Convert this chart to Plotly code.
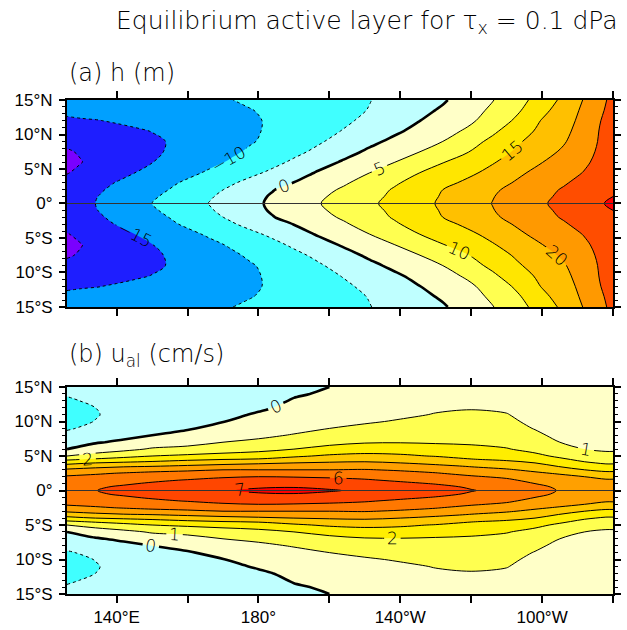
import numpy as np
import plotly.graph_objects as go

# ---------------- panel (a): h (m) ----------------
lon_h = [126, 130, 135, 140, 145, 150, 155, 160, 166, 172, 178, 184, 190, 197,
         204, 211, 218, 225, 232, 239, 246, 253, 260, 266, 272, 276, 280]
lat_h_north = [0, 1, 2, 3, 4.5, 6, 7.5, 9, 10.5, 12, 13.5, 15]
h_north = [
    [-17.4, -16.2, -14.7, -13.1, -11.6, -10.0, -8.4, -6.8, -4.9, -3.0, -1.1, 0.8, 2.6, 4.8, 6.9, 9.1, 11.3, 13.5, 15.7, 17.9, 20.1, 22.3, 24.5, 26.4, 28.3, 29.5, 30.8],
    [-17.7, -16.4, -14.9, -13.4, -12.0, -10.6, -9.0, -7.4, -5.5, -3.5, -1.4, 0.5, 2.3, 4.3, 6.4, 8.6, 10.8, 13.1, 15.4, 17.6, 19.8, 22.0, 24.1, 25.9, 27.6, 28.8, 30.0],
    [-18.3, -17.0, -15.5, -14.0, -12.7, -11.3, -9.9, -8.3, -6.3, -4.4, -2.3, -0.2, 1.5, 3.5, 5.6, 8.0, 10.3, 12.7, 15.0, 17.1, 19.3, 21.4, 23.6, 25.4, 27.4, 28.6, 29.3],
    [-19.0, -17.8, -16.3, -14.8, -13.4, -12.1, -10.7, -9.3, -7.4, -5.6, -3.7, -1.8, 0.1, 2.2, 4.4, 6.8, 9.3, 11.6, 13.7, 15.9, 18.2, 20.5, 22.6, 24.5, 26.5, 27.8, 28.7],
    [-20.2, -19.3, -17.9, -16.5, -15.1, -13.7, -12.4, -11.1, -9.5, -7.7, -6.0, -4.2, -2.0, 0.4, 2.6, 4.8, 7.3, 9.8, 11.9, 13.9, 16.3, 19.1, 21.4, 23.3, 25.2, 26.6, 28.0],
    [-21.0, -20.1, -18.8, -17.6, -16.3, -15.1, -13.8, -12.6, -11.1, -9.6, -7.9, -6.2, -4.3, -1.8, 0.5, 2.7, 4.8, 7.3, 9.8, 12.2, 14.6, 17.2, 19.9, 22.1, 24.4, 25.9, 27.5],
    [-20.3, -19.7, -18.7, -17.7, -16.7, -15.7, -14.6, -13.5, -12.1, -10.8, -9.3, -7.7, -6.1, -4.0, -1.6, 0.7, 2.8, 4.8, 7.3, 9.8, 12.8, 15.7, 18.3, 20.7, 23.7, 25.5, 27.0],
    [-19.3, -18.7, -17.9, -17.1, -16.4, -15.6, -14.8, -13.8, -12.6, -11.5, -10.3, -8.9, -7.3, -5.5, -3.4, -1.2, 0.9, 3.0, 5.0, 8.0, 11.1, 14.4, 17.2, 19.5, 22.9, 25.2, 26.7],
    [-17.8, -17.3, -16.7, -16.1, -15.5, -14.9, -14.1, -13.3, -12.4, -11.5, -10.5, -9.4, -8.0, -6.4, -4.8, -2.8, -0.9, 1.2, 3.3, 5.7, 9.1, 12.7, 16.2, 18.7, 22.2, 25.0, 26.4],
    [-15.5, -15.3, -15.1, -14.6, -14.1, -13.5, -13.0, -12.4, -11.7, -11.1, -10.4, -9.6, -8.4, -7.0, -5.7, -4.1, -2.2, -0.2, 1.9, 4.0, 7.0, 10.9, 15.3, 18.1, 21.5, 24.8, 26.2],
    [-14.3, -14.0, -13.6, -13.2, -12.8, -12.5, -12.1, -11.7, -11.2, -10.8, -10.1, -9.3, -8.3, -7.2, -6.1, -4.9, -3.1, -1.3, 0.6, 3.1, 5.8, 9.3, 13.7, 17.3, 21.0, 24.4, 26.0],
    [-13.5, -13.2, -12.8, -12.5, -12.1, -11.7, -11.3, -11.0, -10.5, -10.1, -9.4, -8.6, -7.8, -7.0, -6.1, -5.2, -3.7, -2.1, -0.5, 2.0, 4.8, 8.2, 12.2, 16.1, 20.4, 24.0, 25.8],
]
h_colors = ["#7a00ff", "#1e1eff", "#00a0ff", "#40ffff", "#bfffff", "#ffffc8",
            "#ffff50", "#ffe600", "#ffc000", "#ff9900", "#ff4d00", "#ff0000"]

# ---------------- panel (b): u_al (cm/s) ----------------
lon_u = [126, 134, 142, 150, 160, 170, 180, 190, 200, 210, 220, 230, 240, 250,
         258, 265, 272, 278, 280]
lat_u_north = [0, 0.5, 1, 1.5, 2, 2.5, 3, 3.5, 4, 4.5, 5, 6, 7, 8, 9, 10, 11, 12, 13, 14, 15]
u_north_by_lon = [
    [5.75, 5.7, 5.55, 5.35, 5.1, 4.7, 4.15, 3.45, 2.7, 1.85, 1.0, 0.0, -0.4, -0.8, -1.08, -1.25, -1.3, -1.22, -1.08, -0.95, -0.85],
    [5.98, 5.9, 5.7, 5.45, 5.2, 4.9, 4.4, 3.7, 3.0, 2.15, 1.35, 0.5, -0.1, -0.5, -0.8, -0.98, -1.05, -1.0, -0.9, -0.8, -0.7],
    [6.25, 6.12, 5.9, 5.65, 5.35, 5.05, 4.6, 3.9, 3.15, 2.4, 1.7, 0.75, 0.2, -0.3, -0.55, -0.7, -0.75, -0.75, -0.7, -0.65, -0.6],
    [6.45, 6.3, 6.1, 5.85, 5.5, 5.2, 4.7, 4.0, 3.25, 2.65, 2.0, 1.1, 0.5, 0.0, -0.3, -0.5, -0.6, -0.62, -0.6, -0.58, -0.55],
    [6.7, 6.55, 6.3, 6.05, 5.7, 5.3, 4.85, 4.2, 3.45, 2.85, 2.2, 1.2, 0.75, 0.35, -0.1, -0.3, -0.45, -0.5, -0.5, -0.5, -0.5],
    [6.95, 6.8, 6.55, 6.25, 5.9, 5.45, 5.0, 4.35, 3.7, 3.0, 2.35, 1.5, 1.0, 0.7, 0.35, -0.03, -0.25, -0.38, -0.42, -0.45, -0.45],
    [7.1, 6.95, 6.7, 6.4, 6.0, 5.5, 5.0, 4.45, 3.85, 3.1, 2.5, 1.7, 1.15, 0.85, 0.6, 0.35, 0.1, -0.15, -0.28, -0.35, -0.4],
    [7.15, 6.98, 6.75, 6.4, 5.95, 5.5, 5.0, 4.5, 4.0, 3.4, 2.85, 2.0, 1.45, 1.05, 0.8, 0.6, 0.4, 0.22, 0.06, -0.08, -0.18],
    [7.05, 6.9, 6.65, 6.3, 5.85, 5.4, 5.0, 4.55, 4.1, 3.6, 3.15, 2.3, 1.75, 1.35, 1.0, 0.75, 0.55, 0.38, 0.22, 0.1, 0.0],
    [6.9, 6.75, 6.45, 6.1, 5.75, 5.4, 5.05, 4.6, 4.15, 3.7, 3.25, 2.55, 1.92, 1.55, 1.2, 0.9, 0.7, 0.55, 0.42, 0.32, 0.25],
    [6.7, 6.5, 6.2, 5.85, 5.55, 5.25, 4.9, 4.5, 4.0, 3.55, 3.15, 2.55, 1.95, 1.6, 1.35, 1.08, 0.85, 0.7, 0.58, 0.5, 0.45],
    [6.45, 6.25, 5.95, 5.65, 5.35, 5.05, 4.7, 4.25, 3.75, 3.4, 2.95, 2.4, 1.9, 1.6, 1.4, 1.22, 1.04, 0.88, 0.76, 0.67, 0.6],
    [6.05, 5.9, 5.7, 5.4, 5.1, 4.75, 4.35, 3.95, 3.5, 3.05, 2.7, 2.25, 1.85, 1.6, 1.42, 1.27, 1.12, 0.95, 0.82, 0.72, 0.65],
    [5.7, 5.6, 5.4, 5.15, 4.85, 4.5, 4.1, 3.7, 3.3, 2.85, 2.5, 2.05, 1.75, 1.52, 1.35, 1.2, 1.04, 0.85, 0.7, 0.6, 0.55],
    [5.3, 5.2, 5.0, 4.75, 4.45, 4.15, 3.8, 3.4, 3.0, 2.6, 2.2, 1.75, 1.45, 1.18, 0.96, 0.78, 0.64, 0.55, 0.48, 0.43, 0.4],
    [4.95, 4.88, 4.72, 4.5, 4.25, 3.9, 3.5, 2.95, 2.5, 2.15, 1.85, 1.4, 1.0, 0.78, 0.62, 0.5, 0.42, 0.37, 0.33, 0.3, 0.28],
    [4.75, 4.7, 4.55, 4.3, 4.0, 3.55, 3.0, 2.6, 2.1, 1.8, 1.5, 1.0, 0.7, 0.55, 0.45, 0.38, 0.33, 0.3, 0.28, 0.26, 0.25],
    [4.6, 4.52, 4.35, 4.12, 3.7, 3.25, 2.75, 2.25, 1.9, 1.6, 1.3, 0.85, 0.6, 0.47, 0.4, 0.34, 0.3, 0.28, 0.26, 0.25, 0.24],
    [4.6, 4.52, 4.35, 4.12, 3.7, 3.25, 2.75, 2.25, 1.9, 1.6, 1.3, 0.85, 0.6, 0.47, 0.4, 0.34, 0.3, 0.28, 0.26, 0.25, 0.24],
]
u_colors = ["#40ffff", "#bfffff", "#ffffc8", "#ffff50", "#ffee00", "#ffc800",
            "#ffa000", "#ff7800", "#ff4600", "#ff0000"]

lon_ticks = [140, 160, 180, 200, 220, 240, 260, 280]
lon_ticktext = ["140°E", "", "180°", "", "140°W", "", "100°W", ""]
lat_ticks = [-15, -10, -5, 0, 5, 10, 15]
lat_ticktext = ["15°S", "10°S", "5°S", "0°", "5°N", "10°N", "15°N"]


def mirror_lat(lat_north, rows_north):
    lat = [-v for v in lat_north[:0:-1]] + list(lat_north)
    rows = [list(r) for r in rows_north[:0:-1]] + [list(r) for r in rows_north]
    return lat, rows


lat_h, h_rows = mirror_lat(lat_h_north, h_north)
u_rows_north = np.array(u_north_by_lon).T.tolist()
lat_u, u_rows = mirror_lat(lat_u_north, u_rows_north)

SMOOTH = 1.0
LABEL_FONT = dict(family="DejaVu Sans", size=17, color="black", weight=300)


def fill_trace(x, y, z, start, end, size, colors, xa, ya):
    n = len(colors) - 1
    cs = [[k / n, c] for k, c in enumerate(colors)]
    return go.Contour(x=x, y=y, z=z, xaxis=xa, yaxis=ya, autocontour=False,
                      contours=dict(start=start, end=end, size=size,
                                    coloring="fill", showlines=False),
                      colorscale=cs, showscale=False, hoverinfo="skip",
                      line=dict(width=0, smoothing=SMOOTH))


def line_trace(x, y, z, start, end, size, width, dash, labels, xa, ya):
    return go.Contour(x=x, y=y, z=z, xaxis=xa, yaxis=ya, autocontour=False,
                      contours=dict(start=start, end=end, size=size,
                                    coloring="none", showlabels=labels,
                                    labelfont=LABEL_FONT),
                      showscale=False, hoverinfo="skip",
                      line=dict(color="black", width=width, dash=dash,
                                smoothing=SMOOTH))


fig = go.Figure()
# panel a
fig.add_trace(fill_trace(lon_h, lat_h, h_rows, -20, 30, 5, h_colors, "x", "y"))
fig.add_trace(line_trace(lon_h, lat_h, h_rows, -20, -5, 15, 1, "dot", False, "x", "y"))
fig.add_trace(line_trace(lon_h, lat_h, h_rows, -15, -10, 5, 1, "dot", True, "x", "y"))
fig.add_trace(line_trace(lon_h, lat_h, h_rows, 0, 0, 5, 2.6, "solid", True, "x", "y"))
fig.add_trace(line_trace(lon_h, lat_h, h_rows, 5, 20, 5, 1, "solid", True, "x", "y"))
fig.add_trace(line_trace(lon_h, lat_h, h_rows, 25, 30, 5, 1, "solid", False, "x", "y"))
# panel b
fig.add_trace(fill_trace(lon_u, lat_u, u_rows, -1, 7, 1, u_colors, "x2", "y2"))
fig.add_trace(line_trace(lon_u, lat_u, u_rows, -1, -1, 1, 1, "dot", False, "x2", "y2"))
fig.add_trace(line_trace(lon_u, lat_u, u_rows, 0, 0, 1, 2.6, "solid", True, "x2", "y2"))
fig.add_trace(line_trace(lon_u, lat_u, u_rows, 1, 2, 1, 1, "solid", True, "x2", "y2"))
fig.add_trace(line_trace(lon_u, lat_u, u_rows, 3, 5, 1, 1, "solid", False, "x2", "y2"))
fig.add_trace(line_trace(lon_u, lat_u, u_rows, 6, 7, 1, 1, "solid", True, "x2", "y2"))

TICKFONT = dict(family="Liberation Sans, Arial", size=17, color="black")
xcommon = dict(range=[126, 280], tickvals=lon_ticks, ticktext=lon_ticktext,
               ticks="outside", ticklen=7, tickwidth=1.5, tickcolor="black",
               showline=True, linewidth=2, linecolor="black", mirror="ticks",
               showgrid=False, zeroline=False, tickfont=TICKFONT,
               layer="above traces", automargin=False)
ycommon = dict(range=[-15, 15], tickvals=lat_ticks, ticktext=lat_ticktext,
               ticks="outside", ticklen=6, tickwidth=1.5, tickcolor="black",
               minor=dict(dtick=1, tick0=0, ticks="outside", ticklen=3,
                          tickwidth=1, tickcolor="black"),
               showline=True, linewidth=2, linecolor="black", mirror="ticks",
               showgrid=False, zeroline=False, tickfont=TICKFONT,
               layer="above traces", automargin=False)

fig.update_layout(
    width=627, height=630,
    margin=dict(l=67, r=14, t=100, b=36, autoexpand=False),
    paper_bgcolor="white", plot_bgcolor="white",
    showlegend=False,
    xaxis=dict(xcommon, domain=[0, 1], anchor="y", showticklabels=False),
    yaxis=dict(ycommon, domain=[0.581, 1], anchor="x", ticklabelstandoff=3),
    xaxis2=dict(xcommon, domain=[0, 1], anchor="y2", ticklabelstandoff=0),
    yaxis2=dict(ycommon, domain=[0, 0.419], anchor="x2", ticklabelstandoff=3),
)

# equator reference lines
for yref, xref in (("y", "x domain"), ("y2", "x2 domain")):
    fig.add_shape(type="line", xref=xref, yref=yref, x0=0, x1=1, y0=0, y1=0,
                  line=dict(color="#333333", width=1.2), layer="above")

TEXTFONT = dict(family="DejaVu Sans", size=25, color="black", weight=300)
fig.add_annotation(xref="paper", yref="paper", x=0.086, y=1.158,
                   xanchor="left", yanchor="middle", showarrow=False,
                   text="Equilibrium active layer for τ<sub>x</sub> = 0.1 dPa",
                   font=TEXTFONT)
fig.add_annotation(xref="paper", yref="paper", x=0.0, y=1.0547,
                   xanchor="left", yanchor="middle", showarrow=False,
                   text="(a) h (m)", font=dict(TEXTFONT, size=24))
fig.add_annotation(xref="paper", yref="paper", x=0.0, y=0.4838,
                   xanchor="left", yanchor="middle", showarrow=False,
                   text="(b) u<sub>al</sub> (cm/s)", font=dict(TEXTFONT, size=24))

fig.write_html("out.html")
